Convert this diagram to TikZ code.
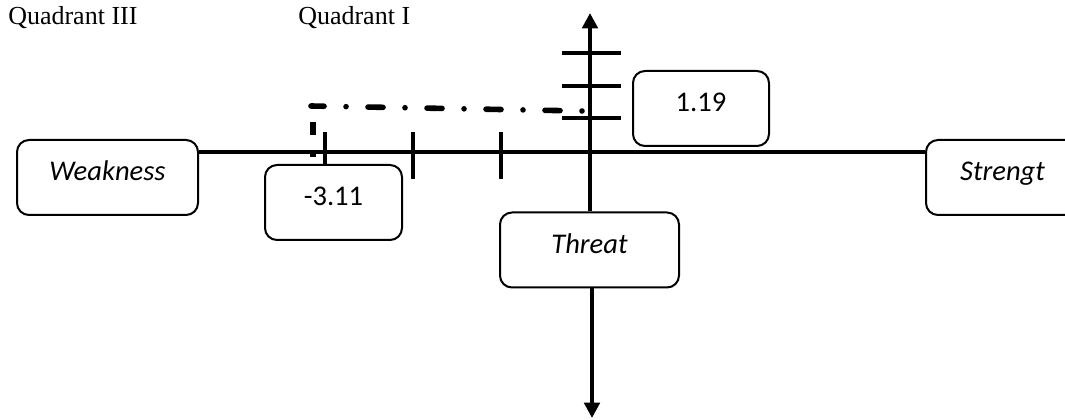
\documentclass[tikz,border=0pt]{standalone}
\usepackage{fontspec}
\setmainfont{Liberation Serif}
\newfontfamily\boxfont{Carlito}
\usetikzlibrary{arrows.meta}

\begin{document}
\begin{tikzpicture}[
  x=0.75pt, y=-0.75pt,
  every node/.style={inner sep=0pt},
  box/.style={draw, line width=1.5pt, rounded corners=9pt,
    font=\boxfont\fontsize{21.4}{24}\selectfont,
    text height=30.75pt, text depth=25.5pt},
  axis/.style={line width=3.2pt},
  tick/.style={line width=3.6pt},
  quad/.style={anchor=base west, font=\fontsize{19.5}{22}\selectfont},
  marker/.style={line width=4.2pt},
]

\clip (0,0) rectangle (1065,420);

% quadrant titles
\node[quad] (q3) at (8,25) {Quadrant III};
\node[quad] (q1) at (298,25) {Quadrant I};

% boxes on the axes
\node[box, minimum width=135.75pt] (weak) at (107.5,177.5) {\itshape Weakness};
\node[box, minimum width=114.75pt] (streng) at (1002.5,177.5) {\itshape Strengt};
\node[box, minimum width=134.25pt] (threat) at (589.5,250) {\itshape Threat};
\node[box, minimum width=102.75pt] (xval) at (333.5,202.5) {-3.11};
\node[box, minimum width=102pt] (yval) at (701,108.5) {1.19};

\coordinate (origin) at (590,152);
\coordinate (ytop) at (590,13);
\coordinate (ybot) at (592,418);

% axes
\draw[axis] (weak.east |- origin) -- (streng.west |- origin);
\draw[axis, -{Triangle[length=11.5pt,width=11.5pt]}] (threat.north -| origin) -- (ytop);
\draw[axis, -{Triangle[length=11.5pt,width=11.5pt]}] (threat.south -| ybot) -- (ybot);

% ticks on the x axis
\draw[tick] (325,132) -- (xval.north -| 325,0);
\foreach \x in {413,501}
  \draw[tick] (\x,132) -- (\x,179);

% ticks on the y axis
\foreach \y in {53,86,118}
  \draw[axis] (562,\y) -- (621,\y);

% marker line
\draw[marker, line cap=round,
  dash pattern=on 0pt off 16.5pt on 11.25pt off 16.5pt]
  (582,111) -- (311,106);
\draw[marker, dash pattern=on 9.75pt off 12.75pt on 3.75pt]
  (313,122) -- (313,157);

\end{tikzpicture}
\end{document}
